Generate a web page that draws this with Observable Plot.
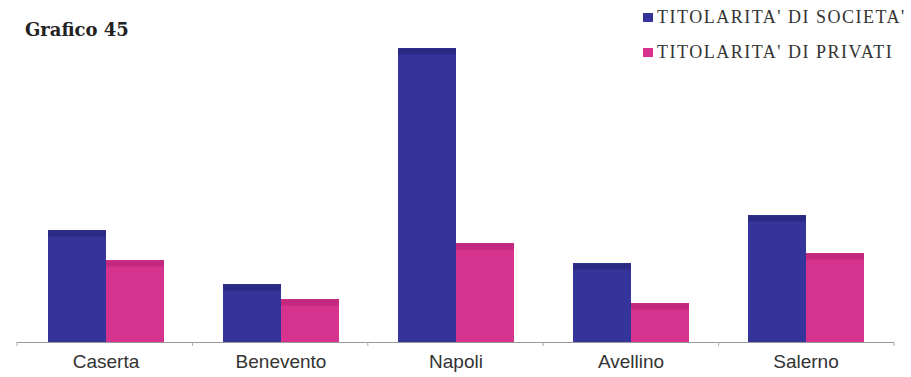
<!DOCTYPE html>
<html>
<head>
<meta charset="utf-8">
<script src="https://cdn.jsdelivr.net/npm/d3@7"></script>
<script src="https://cdn.jsdelivr.net/npm/@observablehq/plot@0.6"></script>
<style>
  body { margin: 0; background: #fff; }
  #wrap { position: relative; width: 911px; height: 377px; overflow: hidden; }
  #title { position: absolute; left: 25px; top: 19px; font-family: "DejaVu Serif", serif; font-weight: bold; font-size: 18px; color: #222; }
  #legend { position: absolute; left: 643px; top: 0px; font-family: "Liberation Serif", serif; font-size: 18px; letter-spacing: 1.5px; color: #333; line-height: 35px; white-space: nowrap; }
  #legend .sw { display: inline-block; width: 10px; height: 9px; margin-right: 4px; vertical-align: 1px; }
  #chart { position: absolute; left: 0; top: 0; }
</style>
</head>
<body>
<div id="wrap">
  <div id="chart"></div>
  <div id="title">Grafico 45</div>
  <div id="legend"></div>
</div>
<script>
const regions = ["Caserta", "Benevento", "Napoli", "Avellino", "Salerno"];
const seriesNames = ["TITOLARITA' DI SOCIETA'", "TITOLARITA' DI PRIVATI"];
const societa = [112, 58, 294, 79, 127];
const privati = [82, 43, 99, 39, 89];
const colors = ["#34349a", "#d6338f"];
const topColors = ["#2a2a85", "#c2287d"];

const data = [];
regions.forEach((r, i) => {
  data.push({region: r, series: seriesNames[0], value: societa[i]});
  data.push({region: r, series: seriesNames[1], value: privati[i]});
});

const legend = document.getElementById("legend");
seriesNames.forEach((s, i) => {
  const row = document.createElement("div");
  row.innerHTML = `<span class="sw" style="background:${colors[i]}"></span>${s}`;
  legend.appendChild(row);
});

const chart = Plot.plot({
  width: 911,
  height: 377,
  marginLeft: 17,
  marginRight: 17,
  marginTop: 42,
  marginBottom: 35,
  style: {background: "transparent", fontFamily: "'Liberation Sans', Arial, sans-serif", fontSize: "19px", color: "#333"},
  facet: {data, x: "region"},
  fx: {domain: regions, paddingInner: 0.33, paddingOuter: 0.165, axis: "bottom", label: null, tickSize: 0, tickPadding: 12},
  x: {domain: seriesNames, padding: 0, axis: null},
  y: {domain: [0, 300], axis: null},
  color: {domain: seriesNames, range: colors},
  marks: [
    Plot.barY(data, {x: "series", y: "value", fill: "series"}),
    Plot.tickY(data, {x: "series", y: "value", stroke: d => d.series === seriesNames[0] ? topColors[0] : topColors[1], strokeWidth: 6, dy: 3})
  ]
});

// baseline across the whole category axis, from Plot's own scales
const fxScale = chart.scale("fx");
const yScale = chart.scale("y");
const x0 = fxScale.range[0], x1 = fxScale.range[1];
const y0 = yScale.range[0];
const step = (x1 - x0) / regions.length;
const svg = d3.select(chart.tagName.toLowerCase() === "svg" ? chart : chart.querySelector("svg"));
svg.append("line").attr("x1", x0).attr("x2", x1).attr("y1", y0 + 0.5).attr("y2", y0 + 0.5)
  .attr("stroke", "#999").attr("stroke-width", 1);
d3.range(regions.length + 1).forEach(k => {
  svg.append("line").attr("x1", x0 + k * step).attr("x2", x0 + k * step)
    .attr("y1", y0).attr("y2", y0 + 4).attr("stroke", "#aaa").attr("stroke-width", 1);
});
document.getElementById("chart").appendChild(chart);
</script>
</body>
</html>
